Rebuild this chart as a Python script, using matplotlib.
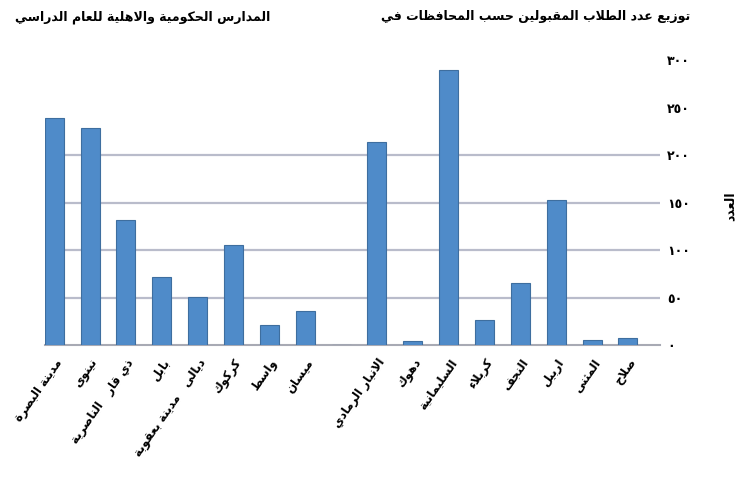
import matplotlib
matplotlib.use('Agg')
import matplotlib.pyplot as plt
import numpy as np

# data
labels = ["مدينة البصرة", "نينوى", "ذي قار   الناصرية", "بابل", "ديالى   مدينة بعقوبة",
          "كركوك", "واسط", "ميسان", "",
          "الانبار الرمادي", "دهوك", "السليمانية", "كربلاء", "النجف", "اربيل", "المثنى", "صلاح"]
values = [239, 228, 132, 72, 51, 105, 21, 36, 0,
          214, 4, 289, 26, 65, 153, 5, 8]
yticks = [0, 50, 100, 150, 200, 250, 300]
grid_vals = [50, 100, 150, 200]
title_right = "توزيع عدد الطلاب المقبولين حسب المحافظات في"
title_left = "المدارس الحكومية والاهلية للعام الدراسي"
ylabel = "العدد"


def _f(base, n):
    return tuple(chr(base + i) for i in range(n))

# presentation forms: isolated, final, initial, medial
FORMS = {'ء': _f(0xFE80, 1), 'آ': _f(0xFE81, 2), 'ا': _f(0xFE8D, 2), 'ب': _f(0xFE8F, 4),
         'ة': _f(0xFE93, 2), 'ت': _f(0xFE95, 4), 'ث': _f(0xFE99, 4), 'ج': _f(0xFE9D, 4),
         'ح': _f(0xFEA1, 4), 'خ': _f(0xFEA5, 4), 'د': _f(0xFEA9, 2), 'ذ': _f(0xFEAB, 2),
         'ر': _f(0xFEAD, 2), 'ز': _f(0xFEAF, 2), 'س': _f(0xFEB1, 4), 'ش': _f(0xFEB5, 4),
         'ص': _f(0xFEB9, 4), 'ض': _f(0xFEBD, 4), 'ط': _f(0xFEC1, 4), 'ظ': _f(0xFEC5, 4),
         'ع': _f(0xFEC9, 4), 'غ': _f(0xFECD, 4), 'ف': _f(0xFED1, 4), 'ق': _f(0xFED5, 4),
         'ك': _f(0xFED9, 4), 'ل': _f(0xFEDD, 4), 'م': _f(0xFEE1, 4), 'ن': _f(0xFEE5, 4),
         'ه': _f(0xFEE9, 4), 'و': _f(0xFEED, 2), 'ى': _f(0xFEEF, 2), 'ي': _f(0xFEF1, 4)}
LAMALEF = {'ا': ('\uFEFB', '\uFEFC'), 'آ': ('\uFEF5', '\uFEF6')}


def shape_line(text):
    out = []
    n = len(text)
    i = 0
    while i < n:
        c = text[i]
        if c not in FORMS:
            out.append(c)
            i += 1
            continue
        prev = text[i - 1] if i > 0 else ''
        joins_prev = prev in FORMS and len(FORMS[prev]) == 4
        if c == 'ل' and i + 1 < n and text[i + 1] in LAMALEF:
            lig = LAMALEF[text[i + 1]]
            out.append(lig[1] if joins_prev else lig[0])
            i += 2
            continue
        nxt = text[i + 1] if i + 1 < n else ''
        f = FORMS[c]
        joins_next = len(f) == 4 and nxt in FORMS and len(FORMS[nxt]) > 1
        if len(f) == 1:
            out.append(f[0])
        elif joins_prev and joins_next:
            out.append(f[3])
        elif joins_prev:
            out.append(f[1])
        elif joins_next:
            out.append(f[2])
        else:
            out.append(f[0])
        i += 1
    return ''.join(reversed(out))


def shape(text):
    return '\n'.join(shape_line(l) for l in text.split('\n'))


def arabic_digits(v):
    return ''.join(chr(0x0660 + int(d)) for d in str(v))


fig = plt.figure(figsize=(7.41, 4.8), dpi=100)
ax = fig.add_axes([0.061, 0.281, 0.83, 0.594])

x = np.arange(len(values))
ax.bar(x, values, width=0.53, color='#4F8BC9', edgecolor='#3E6E9F', linewidth=0.8, zorder=3)

for g in grid_vals:
    ax.axhline(g, color='#B9BCCB', linewidth=1.6, zorder=1)

ax.set_xlim(-0.25, len(values) - 0.1)
ax.set_ylim(0, 300)

ax.yaxis.tick_right()
ax.set_yticks(yticks)
ax.set_yticklabels([arabic_digits(v) for v in yticks], fontsize=9, fontweight='bold')
ax.tick_params(axis='y', length=0, pad=5)

ax.set_xticks(x)
ax.set_xticklabels([shape(l) for l in labels], rotation=55, ha='right', rotation_mode='anchor',
                   fontsize=8.5, fontweight='bold')
ax.tick_params(axis='x', length=0, pad=8)

for s in ['top', 'left', 'right']:
    ax.spines[s].set_visible(False)
ax.spines['bottom'].set_color('#A8AAB4')
ax.spines['bottom'].set_linewidth(1.5)

fig.text(0.932, 0.965, shape(title_right), ha='right', va='center', fontsize=9, fontweight='bold')
fig.text(0.365, 0.965, shape(title_left), ha='right', va='center', fontsize=9, fontweight='bold')
fig.text(0.985, 0.57, shape(ylabel), ha='center', va='center', rotation=90, fontsize=9, fontweight='bold')

fig.savefig('out.png', dpi=100)
